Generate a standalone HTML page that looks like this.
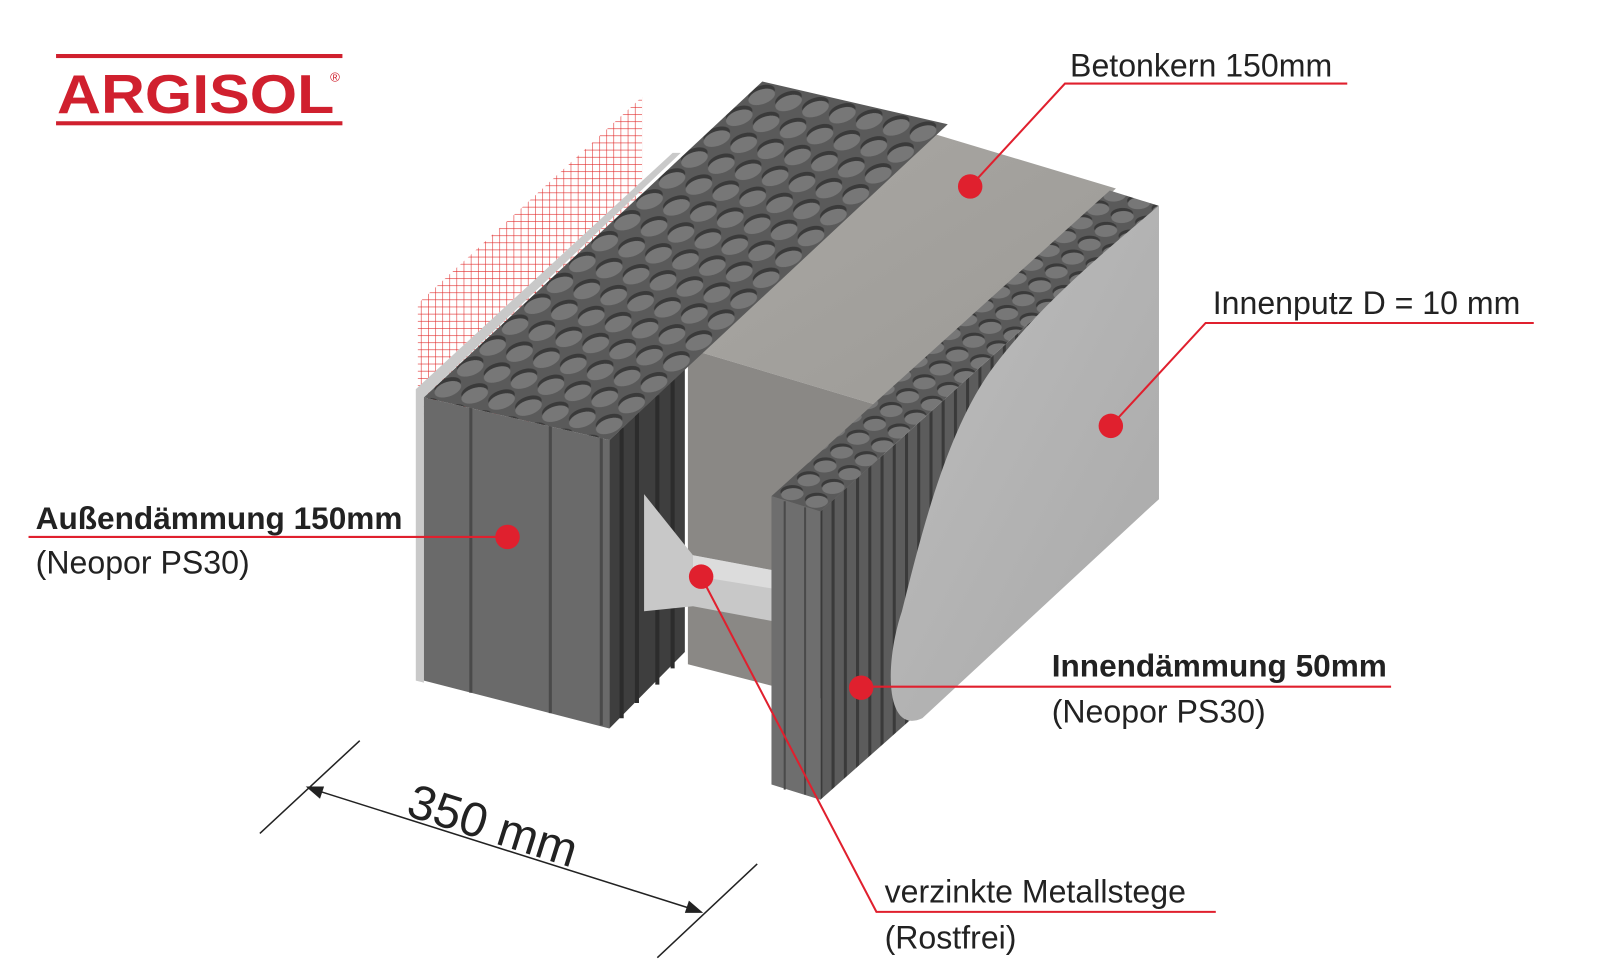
<!DOCTYPE html>
<html><head><meta charset="utf-8"><style>
html,body{margin:0;padding:0;background:#fff}
svg{display:block}
text{font-family:"Liberation Sans",sans-serif;fill:#222}
</style></head><body>
<svg width="1600" height="974" viewBox="0 0 1570 956" preserveAspectRatio="none" xmlns="http://www.w3.org/2000/svg">
<defs>
<pattern id="knobA" patternUnits="userSpaceOnUse" width="1" height="1" patternTransform="matrix(26.4 6 22 -20.5 415 388)">
<rect width="1" height="1" fill="#5a5a5a"/>
<circle cx=".42" cy=".6" r=".38" fill="#3a3a3a"/>
<circle cx=".55" cy=".45" r=".38" fill="#777"/>
</pattern>
<pattern id="knobB" patternUnits="userSpaceOnUse" width="1" height="1" patternTransform="matrix(24 7.5 16.2 -13.6 757 487)">
<rect width="1" height="1" fill="#5a5a5a"/>
<circle cx=".42" cy=".6" r=".38" fill="#3a3a3a"/>
<circle cx=".55" cy=".45" r=".38" fill="#777"/>
</pattern>
<pattern id="mesh" patternUnits="userSpaceOnUse" width="7" height="7">
<path d="M0 0V7M0 0H7" stroke="#e02828" stroke-width="1.1"/>
</pattern>
<pattern id="ribs" patternUnits="userSpaceOnUse" width="12" height="12" patternTransform="skewY(-42)">
<rect width="12" height="12" fill="#5c5c5c"/>
<rect width="3" height="12" fill="#3a3a3a"/>
</pattern>
<linearGradient id="conc" x1="0" y1="0" x2="1" y2="1"><stop offset="0" stop-color="#a9a7a3"/><stop offset="1" stop-color="#9c9a96"/></linearGradient>
<linearGradient id="plas" x1="0" y1="0" x2="1" y2="1"><stop offset="0" stop-color="#bdbdbd"/><stop offset="1" stop-color="#a9a9a9"/></linearGradient>
</defs>

<rect x="55" y="53" width="281" height="4" fill="#d0202e"/>
<rect x="55" y="119" width="281" height="4" fill="#d0202e"/>
<text x="56" y="111" style="font-size:54px;font-weight:bold;fill:#d0202e" textLength="272" lengthAdjust="spacingAndGlyphs">ARGISOL</text>
<text x="324" y="80" style="font-size:13px;fill:#d0202e">®</text>

<polygon points="410,298 630,95 630,420 410,420" fill="url(#mesh)"/>
<polygon points="408,382 660,150 668,150 416,390 416,670 408,668" fill="#c9c9c9"/>

<polygon points="675,342 905,128 1095,185 862,398" fill="url(#conc)"/>
<polygon points="675,342 862,398 862,700 675,652" fill="#8a8885"/>

<polygon points="598,432 672,362 672,640 598,715" fill="#3e3e3e"/>
<polygon points="416,390 598,432 598,715 416,668" fill="#6a6a6a"/>
<path d="M462 400V680M540 418V700M590 430V712" stroke="#4a4a4a" stroke-width="3"/>
<path d="M610 420V705M625 405V690M645 388V672M660 372V656" stroke="#2c2c2c" stroke-width="4"/>
<polygon points="416,390 598,432 930,122 748,80" fill="url(#knobA)"/>

<polygon points="632,485 680,545 760,560 760,610 680,595 632,600" fill="#c8c8c8"/>
<polygon points="680,545 760,560 760,578 680,565" fill="#dcdcdc"/>

<polygon points="805,502 1137,202 1137,490 805,785" fill="url(#ribs)"/>
<polygon points="757,487 805,502 805,785 757,770" fill="#6e6e6e"/>
<path d="M770 492V775M790 498V780" stroke="#4a4a4a" stroke-width="2"/>
<polygon points="757,487 805,502 1137,202 1089,187" fill="url(#knobB)"/>
<path d="M1137,202 L1137,490 L905,705 C868,722 868,650 885,600 C905,520 930,420 975,360 C1020,300 1080,250 1137,202 Z" fill="url(#plas)"/>

<g stroke="#e0202e" stroke-width="2" fill="none">
<path d="M1322 82H1045L952 183"/>
<path d="M1505 317H1183L1090 418"/>
<path d="M28 527H498"/>
<path d="M1365 674H845"/>
<path d="M688 566L860 895H1193"/>
</g>
<g fill="#e0202e">
<circle cx="952" cy="183" r="12"/>
<circle cx="1090" cy="418" r="12"/>
<circle cx="498" cy="527" r="12"/>
<circle cx="845" cy="675" r="12"/>
<circle cx="688" cy="566" r="12"/>
</g>
<text x="1050" y="75" style="font-size:31.5px">Betonkern 150mm</text>
<text x="1190" y="308" style="font-size:31.5px">Innenputz D = 10 mm</text>
<text x="35" y="519" style="font-size:31px;font-weight:bold">Außendämmung 150mm</text>
<text x="35" y="563" style="font-size:31.5px">(Neopor PS30)</text>
<text x="1032" y="664" style="font-size:31px;font-weight:bold">Innendämmung 50mm</text>
<text x="1032" y="709" style="font-size:31.5px">(Neopor PS30)</text>
<text x="868" y="886" style="font-size:31.5px">verzinkte Metallstege</text>
<text x="868" y="931" style="font-size:31.5px">(Rostfrei)</text>

<g stroke="#222" stroke-width="1.5">
<path d="M255 818L353 727M645 940L743 848"/>
<path d="M302 773L688 895"/>
</g>
<polygon points="300,772 318,772 314,784" fill="#222"/>
<polygon points="690,896 672,896 676,884" fill="#222"/>
<text x="0" y="0" transform="translate(397,800) rotate(17.5)" style="font-size:47.5px">350 mm</text>
</svg>
</body></html>
